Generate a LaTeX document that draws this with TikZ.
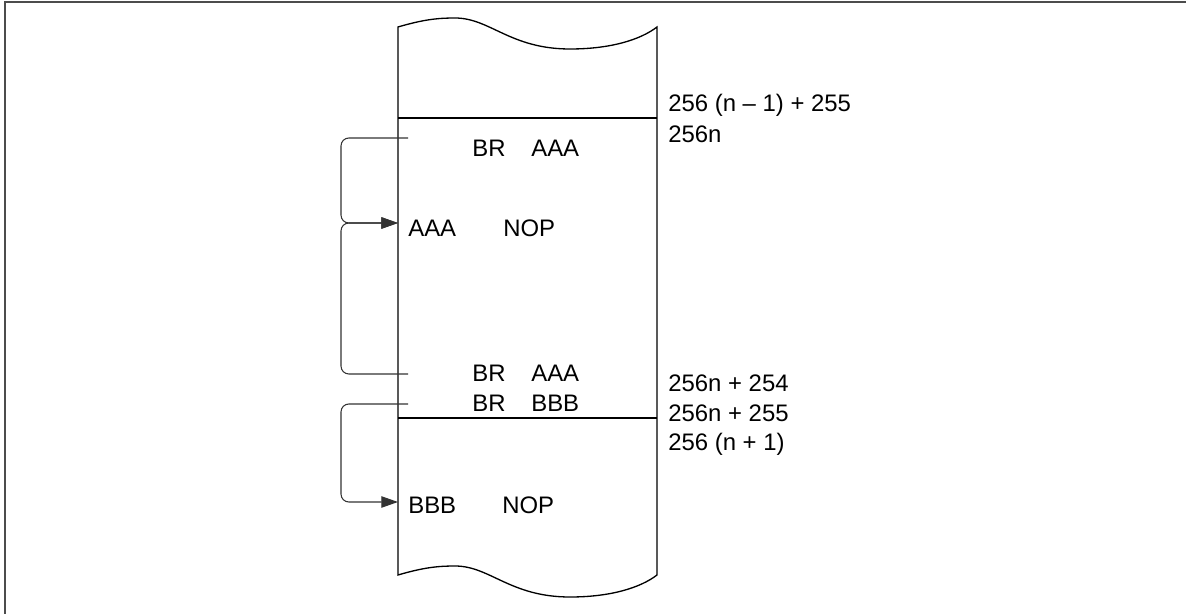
\documentclass[tikz,border=0pt]{standalone}
\usepackage{fontspec}
\setmainfont{Liberation Sans}
\usetikzlibrary{arrows.meta}

\begin{document}
\begin{tikzpicture}[
  x=0.02cm, y=-0.02cm,
  memtxt/.style={
    anchor=base west, inner sep=0pt,
    font=\fontsize{13.6}{16}\selectfont
  },
  strip/.style={line width=0.75pt, draw=black},
  jump/.style={-{Triangle[length=9.5pt,width=6.5pt]}, line width=0.6pt,
    draw=black!80, rounded corners=4.5pt}
]
\useasboundingbox (0,0) rectangle (1186,614);
\draw[line width=0.9pt, draw=black!70] (5,614) -- (5,2) -- (1186,2);

\draw[strip] (398,27) .. controls (425,19) and (440,18) .. (455,18)
  .. controls (490,18) and (510,49) .. (570,49)
  .. controls (610,49) and (640,40) .. (657,27)
  -- (657,575) .. controls (640,588) and (610,597) .. (570,597)
  .. controls (510,597) and (490,566) .. (455,566)
  .. controls (440,566) and (425,567) .. (398,575) -- cycle;
\draw[strip] (398,118) -- (657,118);
\draw[strip] (398,418) -- (657,418);

\node[memtxt] (br1)   at (472,157) {BR};
\node[memtxt] (aaa1)  at (531,157) {AAA};
\node[memtxt] (aaa2)  at (408,237) {AAA};
\node[memtxt] (nop1)  at (503,237) {NOP};
\node[memtxt] (br2)   at (472,382) {BR};
\node[memtxt] (aaa3)  at (531,382) {AAA};
\node[memtxt] (br3)   at (472,412) {BR};
\node[memtxt] (bbb1)  at (531,412) {BBB};
\node[memtxt] (bbb2)  at (408,513) {BBB};
\node[memtxt] (nop2)  at (502,513) {NOP};

\node[memtxt] (adr1) at (668,112) {256 (n – 1) + 255};
\node[memtxt] (adr2) at (668,143) {256n};
\node[memtxt] (adr3) at (668,392) {256n + 254};
\node[memtxt] (adr4) at (668,422) {256n + 255};
\node[memtxt] (adr5) at (668,451) {256 (n + 1)};

\coordinate (src1) at (408,138);
\coordinate (src2) at (408,374);
\coordinate (src3) at (408,404);
\coordinate (dst1) at (398,223);
\coordinate (dst2) at (398,502);

\draw[jump] (src1) -- ++(-67,0) |- (dst1);
\draw[jump] (src2) -- ++(-67,0) |- (dst1);
\draw[jump] (src3) -- ++(-67,0) |- (dst2);
\end{tikzpicture}
\end{document}
